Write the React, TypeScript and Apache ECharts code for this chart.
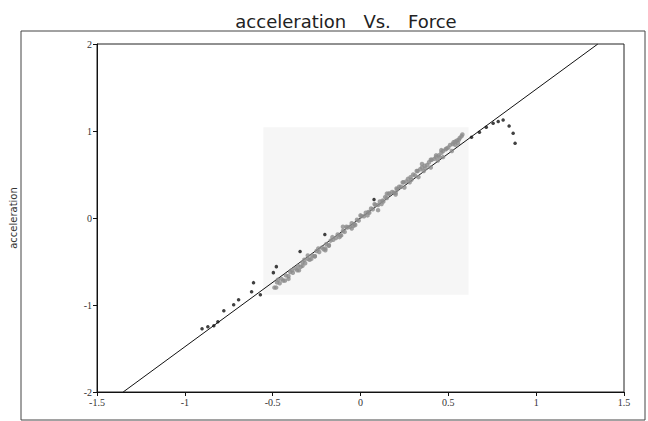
import React, { useEffect, useRef } from "react";
import * as echarts from "echarts";

const titleText = "acceleration   Vs.   Force";
const yName = "acceleration";

const xTicks = { min: -1.5, max: 1.5, interval: 0.5 };
const yTicks = { min: -2, max: 2, interval: 1 };

// fitted straight line end points
const fitX = [-1.351, 1.351];
const fitY = [-2, 2];

// light shaded region behind the dense data
const shadeX = [-0.553, 0.615];
const shadeY = [-0.882, 1.043];

// dense (gray) measurements
const grayX = [
  -0.49, -0.475, -0.46, -0.45, -0.44, -0.425, -0.41, -0.4, -0.385, -0.37, -0.355, -0.34, -0.33, -0.315, -0.3,
  -0.29, -0.275, -0.26, -0.25, -0.235, -0.22, -0.21, -0.195, -0.18, -0.17, -0.155, -0.14, -0.13, -0.115, -0.1,
  -0.09, -0.075, -0.06, -0.05, -0.035, -0.02, -0.01, 0.005, 0.02, 0.03, 0.045, 0.06, 0.07, 0.085, 0.1, 0.11,
  0.125, 0.14, 0.15, 0.165, 0.18, 0.19, 0.205, 0.22, 0.23, 0.245, 0.26, 0.27, 0.285, 0.3, 0.31, 0.325, 0.34,
  0.35, 0.365, 0.38, 0.39, 0.405, 0.42, 0.43, 0.445, 0.46, 0.47, 0.485, 0.5, 0.51, 0.525, 0.54, 0.55, 0.565,
  0.575, 0.25, 0.33, 0.4, 0.47, 0.52, -0.05, -0.2, -0.35, 0.1, 0.2, 0.15, -0.1, 0.35, -0.3, 0.44, 0.555,
  -0.47, -0.43, -0.39, -0.36, -0.32, -0.28, -0.24, -0.2, -0.16, -0.12, -0.08, -0.04, 0.0, 0.04, 0.08, 0.12,
  0.16, 0.2, 0.24, 0.28, 0.32, 0.36, 0.4, 0.43, 0.46, 0.49, 0.53, 0.56, 0.58, -0.48, -0.41, -0.33, -0.26,
  -0.18, -0.11, -0.03, 0.05, 0.13, 0.21, 0.29, 0.37, 0.45, 0.54,
];
const grayY = [
  -0.8, -0.74, -0.75, -0.7, -0.72, -0.66, -0.67, -0.62, -0.63, -0.58, -0.55, -0.56, -0.51, -0.52, -0.47,
  -0.48, -0.43, -0.44, -0.38, -0.39, -0.34, -0.36, -0.3, -0.31, -0.26, -0.25, -0.23, -0.19, -0.2, -0.15,
  -0.16, -0.11, -0.1, -0.06, -0.07, -0.02, -0.03, 0.02, 0.02, 0.06, 0.07, 0.11, 0.1, 0.15, 0.15, 0.19,
  0.2, 0.24, 0.23, 0.28, 0.3, 0.29, 0.34, 0.36, 0.36, 0.41, 0.42, 0.45, 0.47, 0.5, 0.49, 0.54, 0.56,
  0.58, 0.6, 0.61, 0.64, 0.67, 0.68, 0.7, 0.72, 0.75, 0.77, 0.79, 0.81, 0.84, 0.85, 0.88, 0.89, 0.92,
  0.94, 0.35, 0.47, 0.58, 0.7, 0.77, -0.12, -0.37, -0.6, 0.09, 0.27, 0.28, -0.1, 0.62, -0.43, 0.66, 0.86,
  -0.71, -0.72, -0.6, -0.6, -0.48, -0.47, -0.35, -0.35, -0.22, -0.22, -0.1, -0.09, 0.03, 0.03, 0.16, 0.16,
  0.28, 0.29, 0.41, 0.41, 0.54, 0.54, 0.67, 0.72, 0.78, 0.8, 0.87, 0.9, 0.96, -0.8, -0.7, -0.55, -0.44,
  -0.32, -0.2, -0.08, 0.06, 0.19, 0.33, 0.44, 0.57, 0.7, 0.84,
];

// sparse (black) measurements
const blackX = [
  -0.902, -0.869, -0.835, -0.812, -0.778, -0.722, -0.694, -0.62, -0.609, -0.57, -0.496, -0.479, -0.344, -0.203,
  0.077, 0.632, 0.677, 0.716, 0.755, 0.784, 0.812, 0.846, 0.869, 0.88,
];
const blackY = [
  -1.274, -1.251, -1.239, -1.193, -1.066, -0.997, -0.939, -0.847, -0.743, -0.882, -0.628, -0.559, -0.386, -0.19,
  0.213, 0.928, 0.986, 1.043, 1.089, 1.11, 1.127, 1.058, 0.974, 0.859,
];

const zip = (a: number[], b: number[]) => a.map((v, i) => [v, b[i]]);

export default function App() {
  const ref = useRef<HTMLDivElement>(null);
  useEffect(() => {
    if (!ref.current) return;
    const chart = echarts.init(ref.current, undefined, { renderer: "svg" });
    const axisFont = { fontFamily: "Liberation Serif", fontSize: 10, color: "#333" };
    chart.setOption({
      animation: false,
      backgroundColor: "#fff",
      title: {
        text: titleText,
        left: 341,
        textAlign: "center",
        top: 7,
        textStyle: { fontFamily: "DejaVu Sans", fontSize: 18, fontWeight: "normal", color: "#222" },
      },
      grid: {
        left: 92,
        top: 44,
        right: 24,
        bottom: 29,
        show: true,
        borderColor: "#222",
        borderWidth: 1,
        backgroundColor: "transparent",
      },
      xAxis: {
        type: "value",
        min: xTicks.min,
        max: xTicks.max,
        interval: xTicks.interval,
        axisLine: { show: true, onZero: false, lineStyle: { color: "#111", width: 1 } },
        axisTick: { show: true, length: 4, lineStyle: { color: "#111" } },
        axisLabel: { ...axisFont, margin: 5 },
        splitLine: { show: false },
      },
      yAxis: {
        type: "value",
        min: yTicks.min,
        max: yTicks.max,
        interval: yTicks.interval,
        name: yName,
        nameLocation: "middle",
        nameGap: 79,
        nameRotate: 90,
        nameTextStyle: { fontFamily: "DejaVu Sans", fontSize: 10, color: "#333" },
        axisLine: { show: true, onZero: false, lineStyle: { color: "#111", width: 1 } },
        axisTick: { show: true, length: 4, lineStyle: { color: "#111" } },
        axisLabel: { ...axisFont, margin: 5 },
        splitLine: { show: false },
      },
      graphic: [
        {
          type: "rect",
          shape: { x: 21, y: 31, width: 624, height: 389 },
          style: { fill: "none", stroke: "#444", lineWidth: 1 },
          silent: true,
          z: -1,
        },
      ],
      series: [
        {
          type: "line",
          data: zip(fitX, fitY),
          symbol: "none",
          lineStyle: { color: "#111", width: 1 },
          z: 1,
        },
        {
          type: "scatter",
          data: zip(grayX, grayY),
          symbolSize: 4.5,
          itemStyle: { color: "#8c8c8c" },
          z: 2,
          markArea: {
            silent: true,
            itemStyle: { color: "#f6f6f6" },
            data: [[{ coord: [shadeX[0], shadeY[1]] }, { coord: [shadeX[1], shadeY[0]] }]],
            z: 0,
          },
        },
        {
          type: "scatter",
          data: zip(blackX, blackY),
          symbolSize: 3.5,
          itemStyle: { color: "#111" },
          z: 3,
        },
      ],
    });
    return () => chart.dispose();
  }, []);
  return (
    <div
      ref={ref}
      style={{ position: "absolute", left: 0, top: 0, width: 648, height: 421, background: "#fff" }}
    />
  );
}
